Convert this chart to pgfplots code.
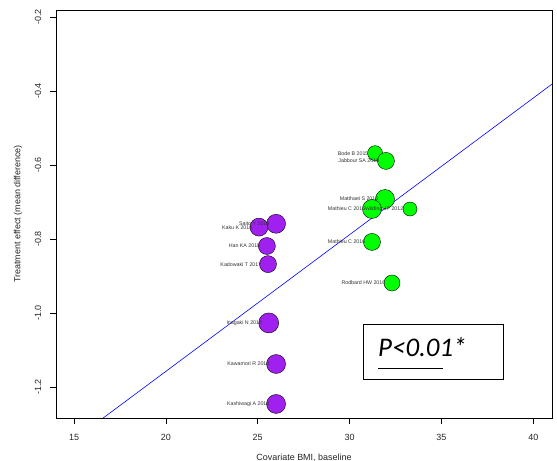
\documentclass[border=0pt]{standalone}
\usepackage{pgfplots}
\pgfplotsset{compat=1.18}
\usepackage{fontspec}
\setmainfont{Liberation Sans}
\newfontfamily\carlito{Carlito}
\definecolor{rpurple}{HTML}{A020F0}
\definecolor{rgreen}{HTML}{00FF00}
\pgfplotsset{
  pt/.style={only marks, mark=*, mark size=#1bp,
    mark options={draw=black, line width=0.6bp}},
  pp/.style={pt=#1, mark options={fill=rpurple}},
  pg/.style={pt=#1, mark options={fill=rgreen}},
  lb/.style={only marks, mark=none, draw=none, nodes near coords={#1},
    nodes near coords style={anchor=east, font=\fontsize{5.3}{6}\selectfont, text=black!80, inner sep=0pt, xshift=-6.5bp}},
}

\begin{document}
\begin{tikzpicture}
\begin{axis}[
  at={(0,0)}, anchor=south west,
  width=496bp, height=408bp, scale only axis,
  xmin=14.02, xmax=41.02, ymin=-1.284, ymax=-0.181,
  xtick={15,20,25,30,35,40},
  ytick={-1.2,-1.0,-0.8,-0.6,-0.4,-0.2},
  yticklabels={-1.2,-1.0,-0.8,-0.6,-0.4,-0.2},
  xtick pos=bottom, ytick pos=left,
  tick align=outside, major tick length=6bp,
  tick style={black, line width=0.6bp},
  axis line style={line width=0.8bp},
  /pgf/number format/assume math mode=true,
  ticklabel style={font=\fontsize{9}{10}\selectfont, text=black!85},
  yticklabel style={rotate=90, anchor=center, yshift=12bp},
  xticklabel style={anchor=center, yshift=-13bp},
  label style={font=\fontsize{9}{10}\selectfont, text=black!85},
  xlabel={Covariate BMI, baseline},
  xlabel style={at={(axis description cs:0.5,0)}, anchor=center, yshift=-40bp},
  ylabel={Treatment effect (mean difference)},
  ylabel style={at={(axis description cs:0,0.5)}, anchor=center, yshift=38bp},
  clip=true,
]
\addplot[blue, line width=0.6bp] coordinates {(14.02,-1.3789) (41.02,-0.3813)};

% purple group
\addplot[pp=9.5] coordinates {(26.00,-0.759)};
\addplot[pp=9.0] coordinates {(25.07,-0.768)};
\addplot[pp=8.5] coordinates {(25.50,-0.819)};
\addplot[pp=8.5] coordinates {(25.56,-0.868)};
\addplot[pp=10.0] coordinates {(25.60,-1.027)};
\addplot[pp=9.5] coordinates {(26.00,-1.138)};
\addplot[pp=9.5] coordinates {(26.00,-1.246)};

% green group
\addplot[pg=7.5] coordinates {(31.39,-0.568)};
\addplot[pg=8.5] coordinates {(31.98,-0.589)};
\addplot[pg=9.5] coordinates {(31.93,-0.692)};
\addplot[pg=9.5] coordinates {(31.22,-0.719)};
\addplot[pg=7.0] coordinates {(33.29,-0.719)};
\addplot[pg=8.5] coordinates {(31.22,-0.808)};
\addplot[pg=8.0] coordinates {(32.31,-0.919)};

% labels (drawn on top)
\addplot[lb={Saito Y 2018}] coordinates {(26.00,-0.759)};
\addplot[lb={Kaku K 2018}] coordinates {(25.07,-0.768)};
\addplot[lb={Han KA 2018}] coordinates {(25.50,-0.819)};
\addplot[lb={Kadowaki T 2017}] coordinates {(25.56,-0.868)};
\addplot[lb={Inagaki N 2014}] coordinates {(25.60,-1.027)};
\addplot[lb={Kawamori R 2018}] coordinates {(26.00,-1.138)};
\addplot[lb={Kashiwagi A 2018}] coordinates {(26.00,-1.246)};
\addplot[lb={Bode B 2015}] coordinates {(31.39,-0.568)};
\addplot[lb={Jabbour SA 2018}] coordinates {(31.98,-0.589)};
\addplot[lb={Matthaei S 2015}] coordinates {(31.93,-0.692)};
\addplot[lb={Mathieu C 2015}] coordinates {(31.22,-0.719)};
\addplot[lb={Wilding JP 2012}] coordinates {(33.29,-0.719)};
\addplot[lb={Mathieu C 2016}] coordinates {(31.22,-0.808)};
\addplot[lb={Rodbard HW 2016}] coordinates {(32.31,-0.919)};

\node[draw=black, line width=0.7bp, minimum width=140bp, minimum height=55bp, inner sep=0pt, fill=white] at (axis cs:34.54,-1.104) {};
\node[anchor=base west, inner sep=0pt, font=\carlito\itshape\fontsize{27}{30}\selectfont] at (axis cs:31.55,-1.118) {P<0.01*};
\draw[line width=0.8bp] (axis cs:31.55,-1.151) -- (axis cs:35.09,-1.151);
\end{axis}
\pgfresetboundingbox
\path (-56bp,-43bp) rectangle (501bp,418bp);
\end{tikzpicture}
\end{document}
